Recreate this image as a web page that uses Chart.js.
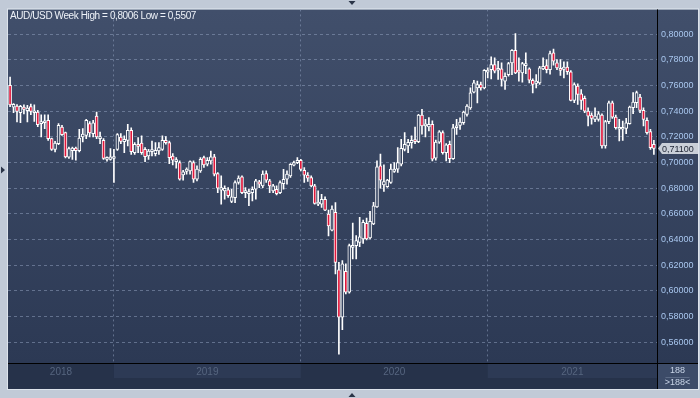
<!DOCTYPE html>
<html>
<head>
<meta charset="utf-8">
<script src="https://cdn.jsdelivr.net/npm/chart.js@4.4.1/dist/chart.umd.min.js"></script>
<style>
  html, body { margin: 0; padding: 0; background: #c1cad7; }
  canvas { display: block; }
</style>
</head>
<body>
<canvas id="chart" width="700" height="398"></canvas>
<script>
// AUD/USD weekly candles, mid 2018 -> Nov 2021
const opens = [
  .7602,.7433,.7441,.7389,.7433,.7405,.7436,.7389,.7394,.7304,.7311,.7329,.7187,.7104,.7148,.7278,.7234,.7042,.7094,.7114,.7094,.7200,.7213,.7304,.7226,.7363,.7187,.7174,.7026,.7026,.7032,.7104,.7200,
  .7164,.7174,.7252,.7078,.7143,.7153,.7104,.7052,.7086,.7070,.7091,.7104,.7174,.7156,.7052,.7008,.7001,.6905,.6931,.6936,.7001,.6871,.6936,.7039,.6988,.7014,.7045,.6915,.6786,.6780,.6788,
  .6697,.6728,.6845,.6889,.6767,.6759,.6767,.6793,.6850,.6819,.6915,.6858,.6780,.6793,.6767,.6837,.6871,.6897,.6980,.7000,.7018,.6941,.6904,.6884,.6819,.6677,.6677,.6715,.6599,.6474,.6612,.6164,
  .5797,.6154,.5991,.6340,.6353,.6379,.6405,.6527,.6413,.6522,.6656,.6975,.6827,.6812,.6846,.6931,.6949,.6988,.7104,.7130,.7156,.7174,.7164,.7371,.7286,.7278,.7299,.7035,.7160,.7234,.7078,
  .7143,.7031,.7272,.7290,.7311,.7376,.7427,.7549,.7583,.7609,.7583,.7705,.7725,.7764,.7720,.7730,.7635,.7686,.7777,.7876,.7720,.7699,.7756,.7730,.7642,.7617,.7622,.7730,.7756,.7725,.7855,.7777,
  .7734,.7726,.7744,.7708,.7485,.7596,.7537,.7501,.7402,.7371,.7337,.7337,.7371,.7130,.7319,.7467,.7355,.7260,.7260,.7267,.7304,.7428,.7467,.7511,.7407,.7330,.7242,.7143
];
const highs = [
  .7666,.7460,.7452,.7446,.7450,.7446,.7456,.7451,.7407,.7373,.7373,.7373,.7192,.7166,.7304,.7291,.7239,.7122,.7122,.7122,.7260,.7265,.7337,.7320,.7330,.7394,.7239,.7187,.7045,.7109,.7104,.7226,.7226,
  .7208,.7298,.7272,.7156,.7195,.7208,.7117,.7104,.7169,.7156,.7156,.7208,.7203,.7169,.7070,.7039,.7014,.6941,.6960,.7014,.7014,.6975,.7039,.7052,.7039,.7091,.7065,.6923,.6897,.6819,.6806,
  .6793,.6858,.6897,.6897,.6806,.6793,.6811,.6871,.6863,.6936,.6936,.6871,.6832,.6819,.6858,.6948,.6936,.6992,.7013,.7039,.7026,.6961,.6923,.6897,.6832,.6780,.6754,.6733,.6630,.6664,.6689,.6223,
  .6237,.6211,.6366,.6530,.6431,.6574,.6553,.6568,.6620,.6690,.7014,.7066,.6983,.6871,.6988,.7001,.7117,.7182,.7234,.7182,.7208,.7278,.7376,.7415,.7338,.7351,.7325,.7175,.7250,.7247,.7148,
  .7168,.7298,.7337,.7350,.7401,.7453,.7583,.7642,.7635,.7627,.7725,.7738,.7824,.7816,.7790,.7777,.7699,.7782,.7881,.8006,.7816,.7782,.7855,.7738,.7653,.7686,.7751,.7816,.7803,.7870,.7885,.7803,
  .7804,.7785,.7785,.7718,.7622,.7614,.7570,.7519,.7428,.7389,.7428,.7397,.7381,.7330,.7480,.7480,.7371,.7337,.7324,.7345,.7441,.7545,.7557,.7532,.7428,.7350,.7260,.7174
];
const lows = [
  .7436,.7390,.7317,.7311,.7380,.7317,.7373,.7322,.7280,.7200,.7265,.7174,.7096,.7083,.7140,.7213,.7037,.7032,.7026,.7019,.7083,.7161,.7187,.7200,.7200,.7187,.7148,.7026,.7011,.7019,.6845,.7096,.7148,
  .7078,.7130,.7065,.7065,.7078,.7065,.7008,.7026,.7052,.7052,.7065,.7096,.7143,.6993,.6982,.6957,.6863,.6863,.6910,.6910,.6845,.6858,.6923,.6962,.6975,.6988,.6897,.6767,.6677,.6716,.6729,
  .6689,.6689,.6832,.6759,.6728,.6664,.6702,.6715,.6806,.6806,.6845,.6767,.6767,.6749,.6759,.6793,.6832,.6884,.6974,.6992,.6936,.6845,.6853,.6811,.6677,.6664,.6651,.6625,.6430,.6469,.6133,.5507,
  .5698,.5978,.5983,.6250,.6250,.6346,.6371,.6397,.6405,.6517,.6651,.6801,.6775,.6807,.6838,.6923,.6923,.6975,.7091,.7078,.7112,.7148,.7156,.7221,.7200,.7247,.7014,.7020,.7150,.7066,.7014,
  .7000,.7026,.7220,.7259,.7298,.7363,.7414,.7544,.7466,.7565,.7575,.7661,.7653,.7699,.7648,.7596,.7570,.7673,.7686,.7694,.7635,.7627,.7694,.7622,.7544,.7583,.7609,.7725,.7699,.7690,.7760,.7725,
  .7679,.7661,.7687,.7480,.7467,.7454,.7415,.7389,.7286,.7299,.7319,.7324,.7112,.7112,.7304,.7345,.7260,.7169,.7174,.7226,.7299,.7381,.7428,.7389,.7286,.7221,.7104,.7065
];
const closes = [
  .7449,.7454,.7399,.7438,.7415,.7425,.7399,.7402,.7296,.7317,.7322,.7187,.7104,.7153,.7291,.7218,.7045,.7109,.7114,.7094,.7192,.7223,.7329,.7231,.7311,.7200,.7200,.7032,.7037,.7045,.7045,.7218,.7166,
  .7182,.7252,.7086,.7143,.7127,.7078,.7047,.7091,.7096,.7096,.7117,.7174,.7156,.7039,.7019,.7019,.6871,.6928,.6949,.7008,.6871,.6949,.7026,.6982,.7019,.7045,.6910,.6801,.6806,.6799,.6742,
  .6733,.6845,.6879,.6767,.6780,.6772,.6793,.6858,.6832,.6910,.6863,.6819,.6819,.6759,.6845,.6871,.6910,.6987,.7000,.7018,.6948,.6902,.6879,.6819,.6682,.6689,.6715,.6630,.6508,.6638,.6223,.5796,
  .6211,.5991,.6353,.6353,.6392,.6423,.6535,.6405,.6542,.6664,.6967,.6864,.6853,.6864,.6949,.6949,.7001,.7112,.7143,.7159,.7174,.7164,.7371,.7286,.7294,.7299,.7027,.7160,.7240,.7078,.7138,
  .7031,.7272,.7285,.7316,.7394,.7440,.7544,.7622,.7609,.7583,.7720,.7720,.7764,.7712,.7730,.7648,.7673,.7772,.7876,.7699,.7705,.7772,.7764,.7642,.7609,.7635,.7738,.7751,.7725,.7850,.7790,.7738,
  .7718,.7744,.7708,.7485,.7609,.7532,.7485,.7402,.7363,.7345,.7363,.7381,.7130,.7319,.7467,.7355,.7273,.7273,.7273,.7311,.7433,.7472,.7545,.7407,.7337,.7234,.7117,.7110
];
const years = ['2018', '2019', '2020', '2021'];
const yearStartBar = [30, 84, 138];   // first weekly bar of 2019, 2020, 2021
const title = 'AUD/USD Week High = 0,8006 Low = 0,5507';
const barCount = '188';

const fmt = v => v.toFixed(5).replace('.', ',');
const n = closes.length;
const lastClose = closes[n - 1];

const wicks = highs.map((h, i) => ({ x: i, y: [lows[i], h] }));
const bodies = opens.map((o, i) => ({ x: i, y: [o, closes[i]] }));
const gridColor = 'rgba(150,166,196,0.5)';

// panel background, time band, year shading
const backdrop = {
  id: 'backdrop',
  beforeDraw(chart) {
    const { ctx, chartArea: a, width, height } = chart;
    const xs = chart.scales.x;
    const right = width - 2, bottom = height - 9;
    ctx.save();
    ctx.fillStyle = '#c1cad7';
    ctx.fillRect(0, 0, width, height);
    const g = ctx.createLinearGradient(0, a.top, 0, a.bottom);
    g.addColorStop(0, '#414f6b');
    g.addColorStop(1, '#2c3954');
    ctx.fillStyle = g;
    ctx.fillRect(a.left, a.top, right - a.left, bottom - a.top);
    ctx.strokeStyle = '#dde3eb';
    ctx.lineWidth = 1;
    ctx.strokeRect(a.left - 0.5, a.top - 0.5, right - a.left + 1, bottom - a.top + 1);

    // time band
    ctx.fillStyle = '#26324a';
    ctx.fillRect(a.left, a.bottom, a.right - a.left, bottom - a.bottom);
    const edges = [a.left, ...yearStartBar.map(b => xs.getPixelForValue(b)), a.right];
    ctx.fillStyle = '#2d3a55';
    for (let k = 1; k < years.length; k += 2) {
      ctx.fillRect(edges[k], a.bottom + 1, edges[k + 1] - edges[k], 14);
    }
    // bar count box
    ctx.fillStyle = '#3c4b68';
    ctx.fillRect(a.right, a.bottom, right - a.right, bottom - a.bottom);
    ctx.restore();
  },
  afterDraw(chart) {
    const { ctx, chartArea: a, width, height } = chart;
    const xs = chart.scales.x, ys = chart.scales.y;
    const right = width - 2, bottom = height - 9;
    ctx.save();
    // separators
    ctx.strokeStyle = '#000';
    ctx.lineWidth = 1;
    ctx.beginPath();
    ctx.moveTo(a.right + 0.5, a.top); ctx.lineTo(a.right + 0.5, bottom);
    ctx.moveTo(a.left, a.bottom + 0.5); ctx.lineTo(right, a.bottom + 0.5);
    ctx.stroke();

    // year labels
    const edges = [a.left, ...yearStartBar.map(b => xs.getPixelForValue(b)), a.right];
    ctx.font = '10px "Liberation Sans", Arial, sans-serif';
    ctx.fillStyle = '#56657f';
    ctx.textAlign = 'center';
    ctx.textBaseline = 'middle';
    years.forEach((y, k) => ctx.fillText(y, (edges[k] + edges[k + 1]) / 2, a.bottom + 9));

    // bar count
    const cx = (a.right + right) / 2;
    ctx.font = '9px "Liberation Sans", Arial, sans-serif';
    ctx.fillStyle = '#c9d5e8';
    ctx.fillText(barCount, cx, a.bottom + 8);
    ctx.fillText('>' + barCount + '<', cx, a.bottom + 20);
    ctx.strokeStyle = '#5c6b86';
    ctx.beginPath();
    ctx.moveTo(cx - 12, a.bottom + 14.5); ctx.lineTo(cx + 12, a.bottom + 14.5);
    ctx.stroke();

    // last price tag
    const py = ys.getPixelForValue(lastClose);
    ctx.fillStyle = '#c9cfd8';
    ctx.beginPath();
    ctx.moveTo(a.right + 1, py);
    ctx.lineTo(a.right + 5, py - 5.5);
    ctx.lineTo(right, py - 5.5);
    ctx.lineTo(right, py + 5.5);
    ctx.lineTo(a.right + 5, py + 5.5);
    ctx.closePath();
    ctx.fill();
    ctx.fillStyle = '#1b2232';
    ctx.textAlign = 'left';
    ctx.fillText(fmt(lastClose), a.right + 5, py + 0.5);

    // title
    ctx.font = '10px "Liberation Sans", Arial, sans-serif';
    ctx.letterSpacing = '-0.4px';
    ctx.fillStyle = '#eef2f8';
    ctx.fillText(title, a.left + 2, a.top + 7);
    ctx.letterSpacing = '0px';

    // frame arrows
    ctx.fillStyle = '#2a3447';
    const mid = width / 2 + 2;
    ctx.beginPath();
    ctx.moveTo(mid - 3.5, 1); ctx.lineTo(mid + 3.5, 1); ctx.lineTo(mid, 5);
    ctx.moveTo(mid - 3.5, height - 1); ctx.lineTo(mid + 3.5, height - 1); ctx.lineTo(mid, height - 5);
    ctx.moveTo(1, 166.5); ctx.lineTo(1, 173.5); ctx.lineTo(5, 170);
    ctx.fill();
    ctx.restore();
  }
};

new Chart(document.getElementById('chart'), {
  type: 'bar',
  data: {
    datasets: [
      {
        label: 'wick',
        data: wicks,
        backgroundColor: '#ffffff',
        barThickness: 1,
        grouped: false,
        order: 2
      },
      {
        label: 'body',
        data: bodies,
        backgroundColor: bodies.map(b => b.y[1] < b.y[0] ? '#e0173b' : '#364460'),
        borderColor: '#ffffff',
        borderWidth: 1,
        borderSkipped: false,
        barThickness: 3,
        minBarLength: 2,
        grouped: false,
        order: 1
      }
    ]
  },
  options: {
    responsive: false,
    animation: false,
    devicePixelRatio: 1,
    events: [],
    layout: { padding: { left: 8, top: 8, right: 0, bottom: 35 } },
    plugins: { legend: { display: false }, tooltip: { enabled: false } },
    scales: {
      x: {
        type: 'linear',
        min: -0.6,
        max: n - 0.1,
        offset: false,
        afterBuildTicks: s => { s.ticks = yearStartBar.map(v => ({ value: v })); },
        afterFit: s => { s.height = 0; },
        ticks: { display: false },
        grid: { offset: false, color: gridColor, drawTicks: false },
        border: { display: false, dash: [2, 3] }
      },
      y: {
        position: 'right',
        min: 0.5439,
        max: 0.8194,
        beginAtZero: false,
        afterFit: s => { s.width = 43; },
        ticks: {
          stepSize: 0.02,
          includeBounds: false,
          padding: 4,
          color: '#a9c7ef',
          font: { family: '"Liberation Sans", Arial, sans-serif', size: 9 },
          callback: v => fmt(v)
        },
        grid: { color: gridColor, drawTicks: false },
        border: { display: false, dash: [3, 3] }
      }
    }
  },
  plugins: [backdrop]
});
</script>
</body>
</html>
